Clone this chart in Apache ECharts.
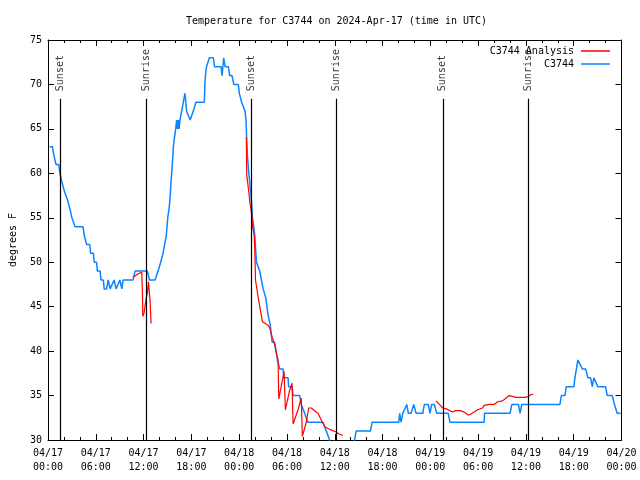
<!DOCTYPE html>
<html>
<head>
<meta charset="utf-8">
<script src="https://cdn.jsdelivr.net/npm/echarts@6/dist/echarts.min.js"></script>
<style>html,body{margin:0;padding:0;background:#fff;}#c{width:640px;height:480px;}</style>
</head>
<body>
<div id="c"></div>
<script>
// Hours since 2024-04-17 00:00 UTC
const blueTimes = [0.2,0.55,0.75,0.9,1.0,1.35,1.5,1.65,1.75,1.95,2.05,2.3,2.45,2.65,2.75,2.9,3.0,3.25,3.4,4.4,4.55,4.75,4.85,5.25,5.35,5.7,5.8,6.1,6.2,6.55,6.65,6.95,7.05,7.35,7.55,7.8,8.05,8.3,8.55,8.8,9.02,9.27,9.43,10.68,10.93,12.48,12.73,13.44,13.82,14.15,14.44,14.64,14.85,15.03,15.19,15.31,15.44,15.61,15.74,15.87,16.03,16.15,16.25,16.37,16.45,16.57,16.78,16.99,17.19,17.3,17.4,17.62,17.85,18.03,18.24,18.57,19.62,19.7,19.76,19.9,20.26,20.76,20.9,21.73,21.85,21.98,22.06,22.23,22.64,22.81,23.1,23.32,23.89,24.02,24.23,24.31,24.56,24.73,24.86,24.94,25.04,25.21,25.33,25.54,25.67,25.83,25.96,26.17,26.58,27.01,27.34,27.64,27.89,28.14,28.46,28.8,29.09,29.51,29.6,30.14,30.21,30.64,30.77,31.59,31.8,32.22,32.6,34.52,34.94,35.35,35.6,38.3,38.48,38.69,40.48,40.7,44.04,44.15,44.33,44.54,44.74,45.04,45.24,45.58,45.92,46.21,47.05,47.25,47.75,47.96,48.17,48.5,48.8,50.25,50.46,54.76,54.8,58.01,58.23,59.06,59.27,59.48,64.27,64.45,64.9,65.07,66.03,66.15,66.28,66.53,66.78,67.08,67.49,67.78,68.12,68.33,68.53,68.78,69.03,70.0,70.21,70.84,71.12,71.46,71.88];
const blueValues = [63,63,62,62,61,61,60,60,59,59,58,58,57,57,56,56,55,55,54,54,53,53,52,52,51,51,50,50,49,49,48,48,47,47,48,47,47,48,47,47,48,47,48,48,49,49,48,48,49,50,51,52,53,55,56,57,59,61,63,64,65,66,65,66,65,66,67,68,69,68,67,67,66,66,67,68,68,70,71,72,73,73,72,72,71,71,73,72,72,71,71,70,70,69,69,68,68,67,66,64,62,60,59,57,55,54,53,50,49,47,46,44,43,41,41,39,38,38,37,37,36,36,35,35,34,33,32,32,31,30,29,29,30,31,31,32,32,33,32,33,33,34,33,33,34,33,33,34,34,33,34,34,33,33,32,32,33,33,34,34,33,34,34,35,35,36,36,37,37,39,39,38,38,37,37,36,37,37,36,36,35,35,34,33,33];

const redTimes1 = [10.64,11.14,11.77,11.86,11.9,12.06,12.18,12.31,12.48,12.61,12.68,12.81,12.9,12.94];
const redValues1 = [48.3,48.6,48.9,46.5,43.9,44.3,45.0,45.9,46.5,47.8,47.6,45.75,45.6,43.1];
const redTimes2 = [24.9,24.95,25.04,25.13,25.25,25.33,25.54,25.63,25.67,25.88,25.96,26.05,26.38,26.67,26.92,27.64,27.84,28.14,28.46,28.68,28.89,28.97,29.14,29.51,29.64,29.8,29.93,30.34,30.64,30.77,30.97,31.39,31.8,31.93,32.1,32.43,32.72,33.06,33.47,33.9,34.31,34.73,35.35,35.56,36.19,36.48,37.03];
const redValues2 = [64.1,59.8,59.2,58.5,57.6,56.8,56.7,55.1,54.0,53.1,51.4,48.0,46.1,44.6,43.3,42.9,42.6,41.6,40.7,39.75,39.0,34.6,34.7,37.1,37.7,33.4,33.4,35.6,36.4,31.8,31.8,33.4,34.7,30.4,30.5,32.0,33.6,33.6,33.3,33.0,32.25,31.5,31.2,31.0,30.9,30.7,30.5];
const redTimes3 = [48.71,48.9,49.25,49.55,50.0,50.25,50.8,51.2,51.76,52.1,52.47,52.76,53.04,53.5,53.93,54.56,54.76,55.39,56.01,56.44,57.06,57.48,57.89,58.31,58.73,59.98,60.27,60.61,60.94];
const redValues3 = [34.4,34.3,33.9,33.6,33.5,33.4,33.15,33.3,33.3,33.2,33.0,32.8,32.9,33.15,33.4,33.6,33.9,34.0,34.0,34.3,34.4,34.7,35.0,34.9,34.8,34.8,34.9,35.1,35.15];

const sunTimes = [1.6, 12.37, 25.48, 36.25, 49.56, 60.33];
const sunLabels = ['Sunset','Sunrise','Sunset','Sunrise','Sunset','Sunrise'];
const sunLineTop = 68.4;

const titleText = 'Temperature for C3744 on 2024-Apr-17 (time in UTC)';
const yAxisName = 'degrees F';
const redName = 'C3744 Analysis';
const blueName = 'C3744';

const FONT = 'DejaVu Sans Mono';
function zip(t, v) { return t.map((x, i) => [x, v[i]]); }
const redData = zip(redTimes1, redValues1).concat([[13.0, '-']], zip(redTimes2, redValues2), [[40, '-']], zip(redTimes3, redValues3));
const blueData = zip(blueTimes, blueValues);
function pad(n) { return (n < 10 ? '0' : '') + n; }
function xFmt(v) {
  const d = 17 + Math.floor(v / 24);
  const h = Math.round(v % 24);
  return '04/' + pad(d) + '\n' + pad(h) + ':00';
}

const chart = echarts.init(document.getElementById('c'), null, { renderer: 'canvas' });
const xBase = { type: 'value', min: 0, max: 72, interval: 6,
  splitLine: { show: false },
  axisLine: { show: true, onZero: false, lineStyle: { color: '#000', width: 1 } },
  axisTick: { show: true, inside: true, length: 6, lineStyle: { color: '#000' } },
  minorTick: { show: true, splitNumber: 3, length: 3, lineStyle: { color: '#000' } } };
const yBase = { type: 'value', min: 30, max: 75, interval: 5,
  splitLine: { show: false },
  axisLine: { show: true, onZero: false, lineStyle: { color: '#000', width: 1 } },
  axisTick: { show: true, inside: true, length: 6, lineStyle: { color: '#000' } } };

chart.setOption({
  animation: false,
  backgroundColor: '#fff',
  textStyle: { fontFamily: FONT },
  title: { text: titleText, left: 181, top: 11,
    textStyle: { fontFamily: FONT, fontSize: 10, fontWeight: 'normal', color: '#000' } },
  legend: { right: 30, top: 45, orient: 'vertical', align: 'right', icon: 'rect', itemWidth: 29, itemHeight: 1.5, itemGap: 1, padding: 0,
    textStyle: { fontFamily: FONT, fontSize: 10, color: '#000', padding: [0, 2, 0, 0], lineHeight: 12 },
    data: [redName, blueName] },
  grid: { left: 46, right: 18.5, top: 40, bottom: 40 },
  xAxis: [
    Object.assign({}, xBase, { position: 'bottom',
      axisLabel: { show: true, margin: 6, fontFamily: FONT, fontSize: 10, color: '#000', lineHeight: 14, formatter: xFmt, showMinLabel: true, showMaxLabel: true } }),
    Object.assign({}, xBase, { position: 'top', axisLabel: { show: false } })
  ],
  yAxis: [
    Object.assign({}, yBase, { position: 'left', name: yAxisName, nameLocation: 'middle', nameGap: 30, nameRotate: 90,
      nameTextStyle: { fontFamily: FONT, fontSize: 10, color: '#000' },
      axisLabel: { show: true, margin: 6, fontFamily: FONT, fontSize: 10, color: '#000' } }),
    Object.assign({}, yBase, { position: 'right', axisLabel: { show: false } })
  ],
  series: [
    { name: redName, type: 'line', data: redData, symbol: 'none', showSymbol: false, connectNulls: false,
      lineStyle: { color: '#ff0000', width: 1.2 }, itemStyle: { color: '#ff0000' }, z: 4, clip: true },
    { name: blueName, type: 'line', data: blueData, symbol: 'none', showSymbol: false,
      lineStyle: { color: '#0a84ff', width: 1.5 }, itemStyle: { color: '#0a84ff' }, z: 3, clip: true,
      markLine: { silent: true, symbol: 'none', label: { show: false },
        lineStyle: { color: '#000', width: 1.2, type: 'solid' },
        data: sunTimes.map(t => [{ coord: [t, 30] }, { coord: [t, sunLineTop] }]) } },
    { name: 'sunLabels', type: 'scatter', symbolSize: 1, itemStyle: { color: 'rgba(0,0,0,0)' }, silent: true,
      data: sunTimes.map((t, i) => ({ value: [t, sunLineTop], name: sunLabels[i] })),
      label: { show: true, formatter: p => p.name, rotate: 90, position: 'top', distance: 7,
        align: 'left', verticalAlign: 'middle', fontFamily: FONT, fontSize: 10, color: '#000' }, z: 5 }
  ]
});
</script>
</body>
</html>
